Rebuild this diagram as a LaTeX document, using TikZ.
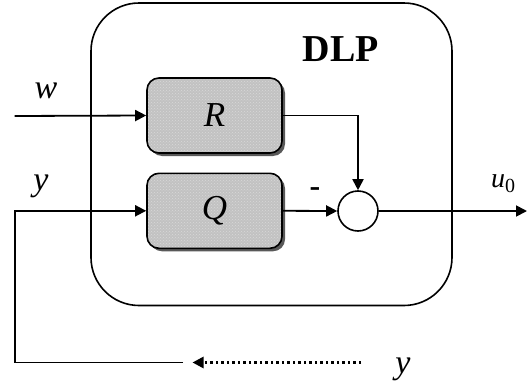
\documentclass[tikz,border=0pt]{standalone}
\usepackage{fontspec}
\setmainfont{Liberation Serif}
\usetikzlibrary{arrows.meta,shadows,patterns}
\begin{document}
\begin{tikzpicture}[x=1pt,y=-1pt,
  line/.style={line width=1.8pt},
  arr/.style={line, -{Triangle[length=11pt,width=11pt]}},
  dotarr/.style={line width=2.6pt, dash pattern=on 2.5pt off 3pt, -{Triangle[length=11pt,width=11pt]}},
  blk/.style={draw, line width=1.6pt, rounded corners=12pt, minimum width=135pt, minimum height=75pt, inner sep=0pt,
    drop shadow={shadow xshift=3pt, shadow yshift=-3pt, fill=black!65, opacity=1},
    preaction={fill=black!24}, pattern=crosshatch dots, pattern color=white!85!black,
    font=\fontsize{35}{40}\selectfont\itshape},
  lbl/.style={anchor=base, inner sep=0pt, font=\fontsize{34}{40}\selectfont\itshape}
]
\useasboundingbox (0,0) rectangle (531,383);
% outer box
\node[draw, line width=1.6pt, rounded corners=48pt, minimum width=361pt, minimum height=302.5pt, inner sep=0pt] (dlp) at (271.5,154.25) {};
\node[anchor=base, inner sep=0pt, font=\fontsize{38}{44}\selectfont\bfseries] (dlpl) at (340.8,61.7) {DLP};
% blocks
\node[blk] (R) at (214.5,115.5) {R};
\node[blk] (Q) at (214.5,210.8) {Q};
\node[circle, draw, line width=1.6pt, minimum size=40pt, inner sep=0pt] (sum) at (358,211) {};
% labels
\node[lbl] (wl) at (46,98.3) {w};
\node[lbl] (yl) at (41,190.5) {y};
\node[lbl] (yb) at (403,373.5) {y};
\node[anchor=base west, inner sep=0pt] (ul) at (491,187) {\fontsize{28}{32}\selectfont\itshape u\raisebox{-5pt}{\fontsize{20}{24}\selectfont\upshape 0}};
\node[anchor=base, inner sep=0pt, font=\fontsize{32}{36}\selectfont\bfseries] (minus) at (315,196) {-};
% coordinates
\coordinate (win) at (14.7,116);
\coordinate (uout) at (527,211);
\coordinate (fbend) at (183,362.5);
\coordinate (fbcorner) at (14.7,362.5);
\coordinate (dotstart) at (361,362.5);
\coordinate (dottip) at (192.5,362.5);
% connectors
\draw[arr] (win) -- (R.west);
\draw[arr] (R.east) -| (sum.north);
\draw[arr] (Q.east) -- (sum.west);
\draw[arr] (sum.east) -- (uout);
\draw[arr] (fbend) -- (fbcorner) |- (Q.west);
\draw[dotarr] (dotstart) -- (dottip);
\end{tikzpicture}
\end{document}
